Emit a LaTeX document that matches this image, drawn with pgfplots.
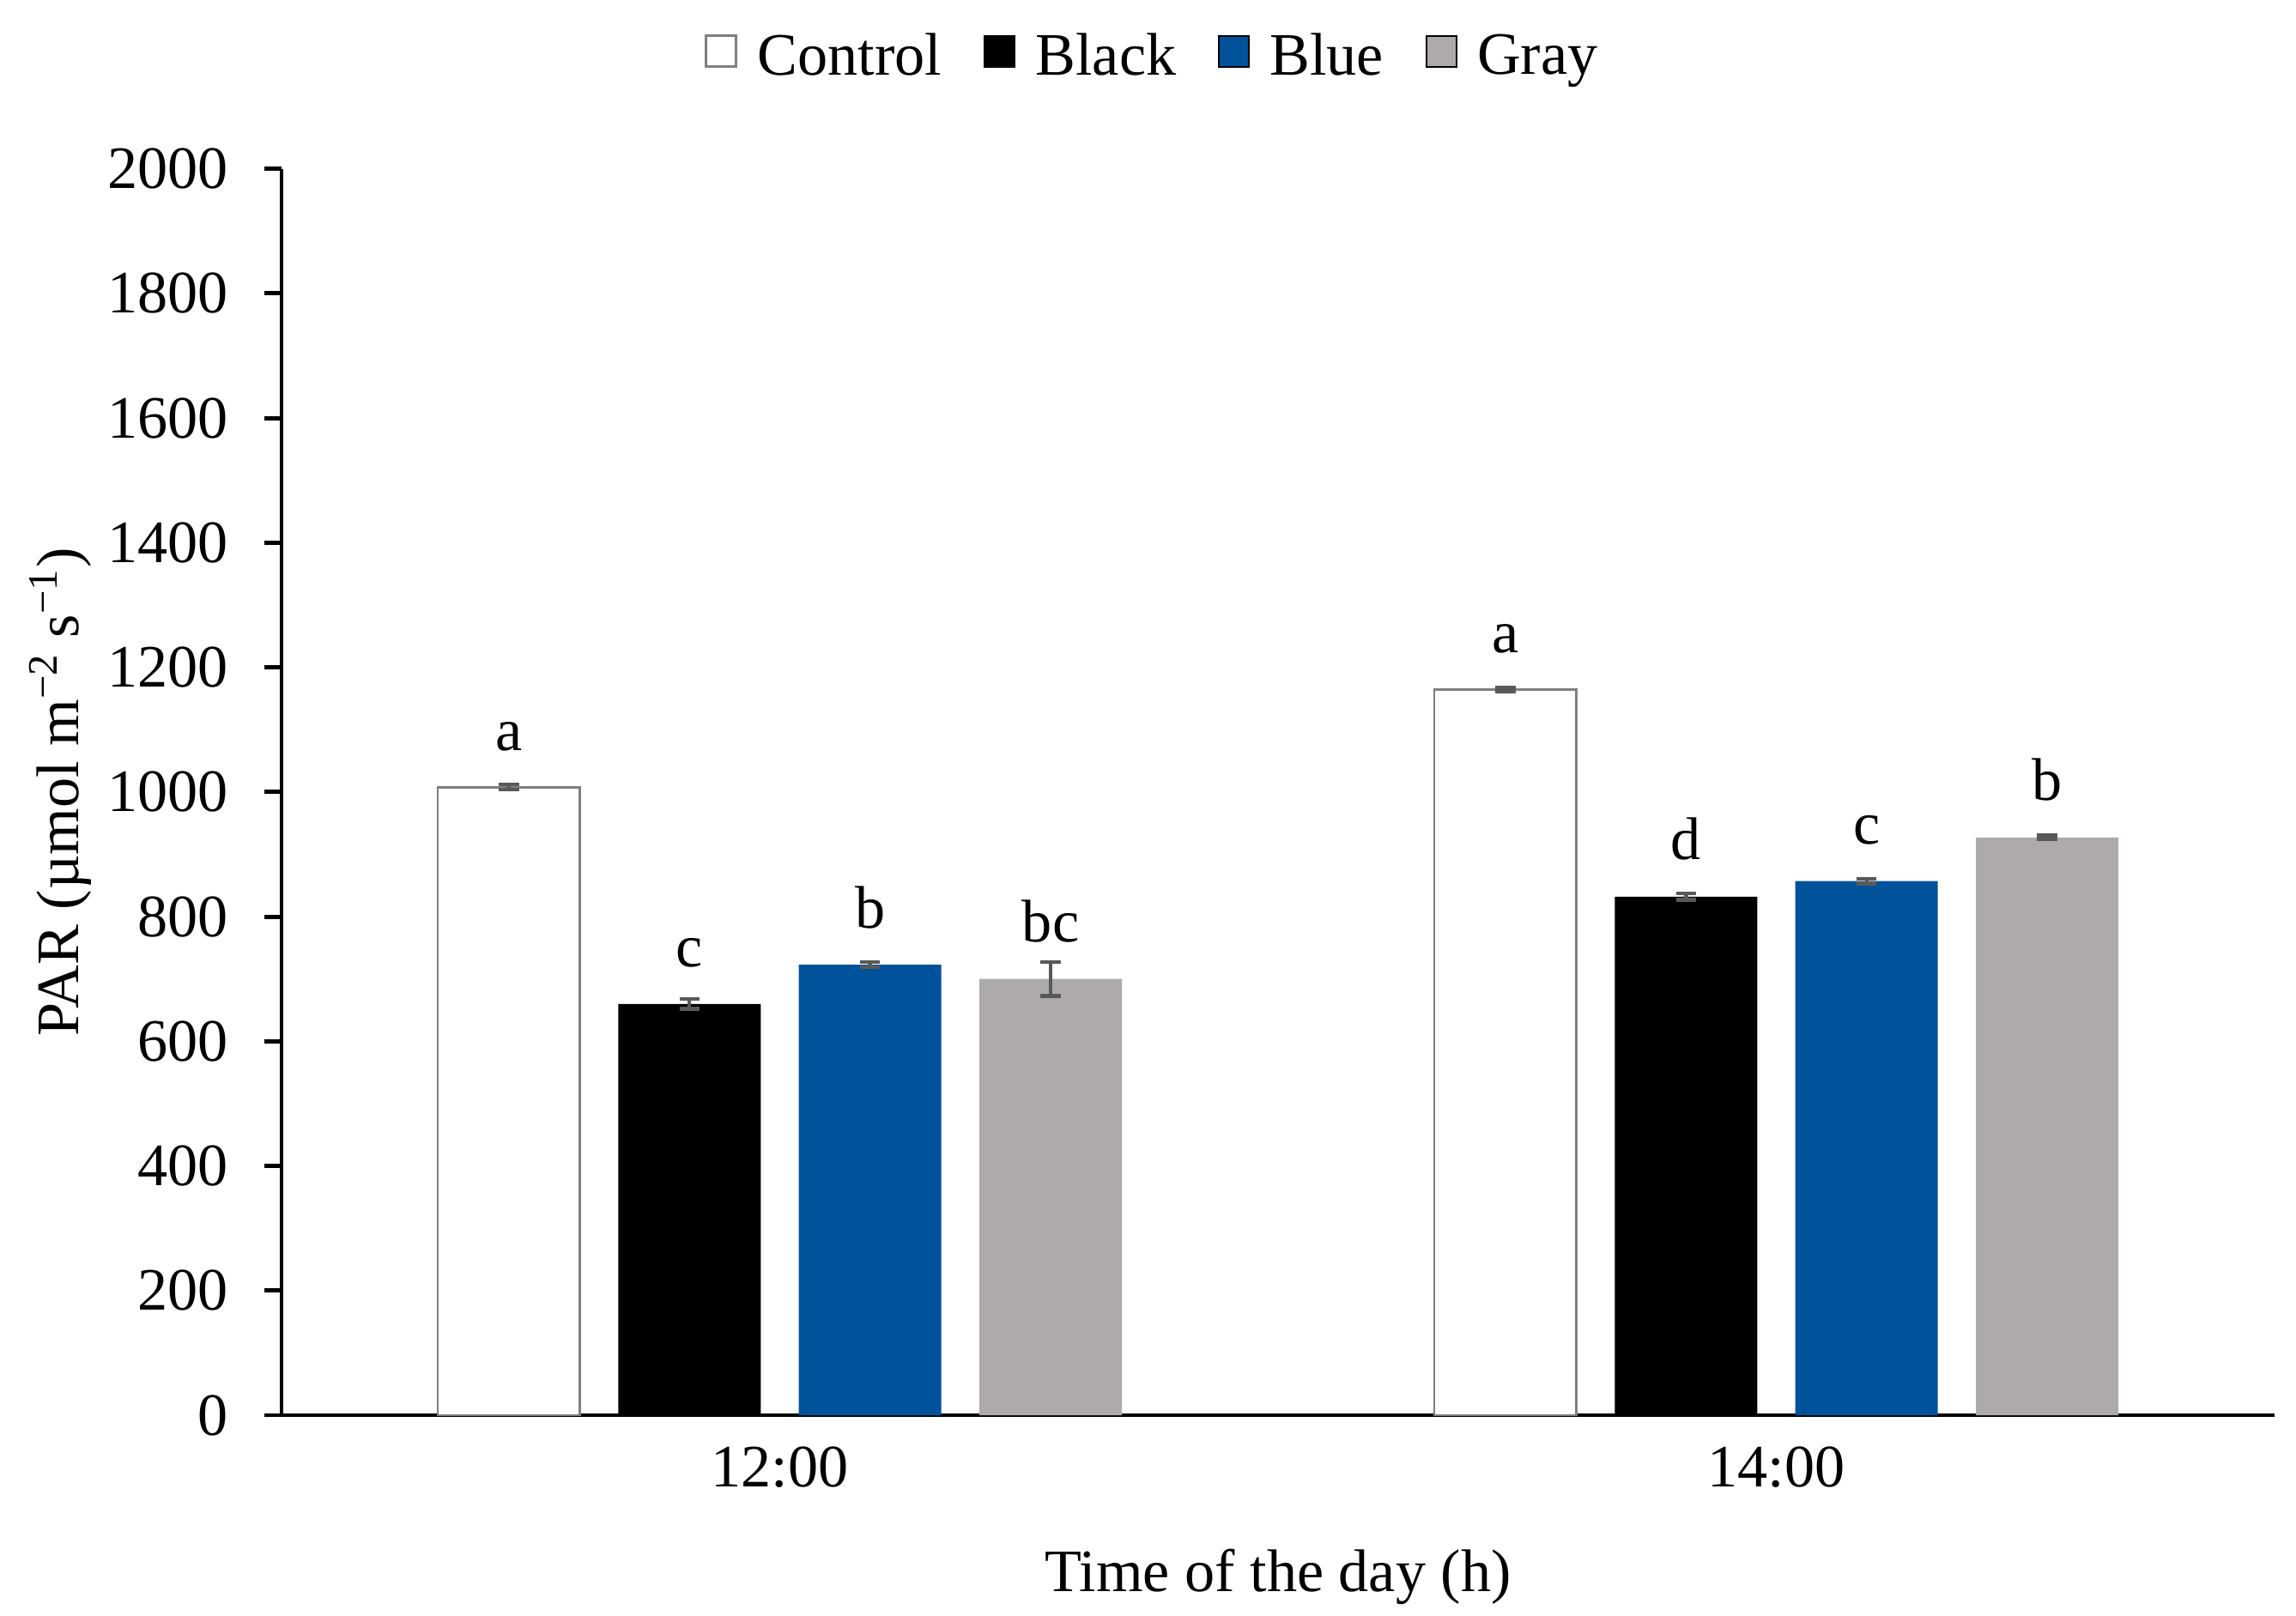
\documentclass[border=0pt]{standalone}
\usepackage{pgfplots}
\pgfplotsset{compat=1.18}
\usepackage{pgfplotstable}
\usepackage{fontspec}
\setmainfont{Liberation Serif}

\definecolor{ctrledge}{HTML}{7F7F7F}
\definecolor{barblue}{HTML}{00529B}
\definecolor{bargray}{HTML}{AEAAAA}
\definecolor{errgray}{HTML}{595959}

% PAR means, error and letters (0 = 12:00, 1 = 14:00)
\pgfplotstableread{
x y err lab
0 1008 4 a
1 1164 3 a
}\control
\pgfplotstableread{
x y err lab
0 660 8 c
1 832 5 d
}\black
\pgfplotstableread{
x y err lab
0 723 4 b
1 857 4 c
}\blue
\pgfplotstableread{
x y err lab
0 700 27 bc
1 927 3 b
}\gray

\begin{document}
\fontsize{14.4}{17}\selectfont
\begin{tikzpicture}
\path[use as bounding box] (-67.29pt,-47.80pt) rectangle (481.51pt,338.31pt);
\begin{axis}[
  at={(0,0)}, anchor=south west,
  scale only axis, width=476.38pt, height=297.96pt,
  ybar, bar width=0.1429,
  xmin=-0.5, xmax=1.5, ymin=0, ymax=2000,
  ytick={0,200,...,2000},
  xtick={0,1}, xticklabels={12:00,14:00},
  axis x line*=bottom, axis y line*=left,
  axis line style={line width=1pt, black, -},
  tick align=outside, major tick length=4.1pt,
  ytick style={line width=1pt, black},
  xtick style={draw=none},
  /pgf/number format/assume math mode=true,
  /pgf/number format/1000 sep={},
  yticklabel style={xshift=-3.6pt},
  xticklabel style={anchor=base, yshift=-13pt},
  xlabel={Time of the day (h)},
  xlabel style={at={(axis description cs:0.5,-0.1418)}, anchor=base},
  ylabel={PAR (µmol m\textsuperscript{−2} s\textsuperscript{−1})},
  ylabel style={at={(axis description cs:-0.1018,0.5)}, anchor=base},
  error bars/y dir=both, error bars/y explicit,
  error bars/error bar style={line width=0.9pt, errgray},
  error bars/error mark options={rotate=90, mark size=2.4pt, line width=0.9pt, errgray},
  point meta=explicit symbolic,
  nodes near coords,
  every node near coord/.append style={anchor=base, yshift=8.8pt, black},
  legend columns=4,
  legend style={at={(axis description cs:0.4384,1.088)}, anchor=center,
    draw=none, fill=none,
    /tikz/every even column/.append style={column sep=8pt},
    nodes={inner xsep=2pt}},
  legend image code/.code={\draw[#1] (0.3pt,-1.8pt) rectangle (7.5pt,5.6pt);
    \path (10.5pt,0pt);},
]
\addplot[fill=white, draw=ctrledge, line width=0.6pt, bar shift=-0.2718]
  table[x=x, y=y, y error=err, meta=lab] {\control};
\addplot[fill=black, draw=none, bar shift=-0.0906]
  table[x=x, y=y, y error=err, meta=lab] {\black};
\addplot[fill=barblue, draw=none, bar shift=0.0906]
  table[x=x, y=y, y error=err, meta=lab] {\blue};
\addplot[fill=bargray, draw=none, bar shift=0.2718]
  table[x=x, y=y, y error=err, meta=lab] {\gray};
\legend{Control, Black, Blue, Gray}
\end{axis}
\end{tikzpicture}
\end{document}
